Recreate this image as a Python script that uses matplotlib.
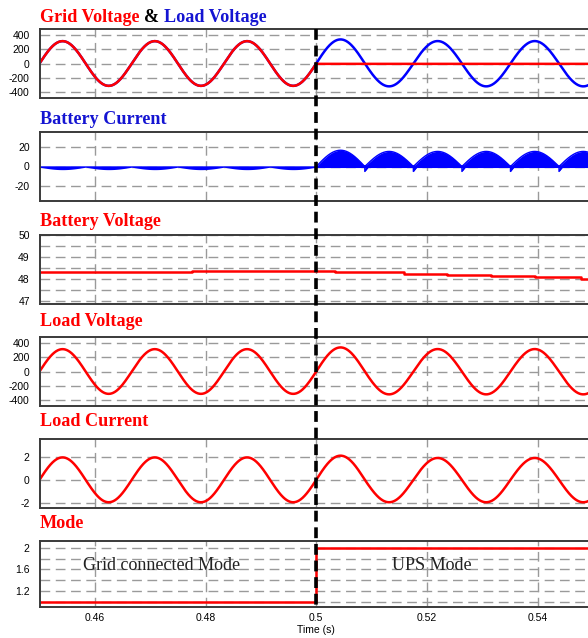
import numpy as np
import matplotlib
matplotlib.use("Agg")
import matplotlib.pyplot as plt
from matplotlib.lines import Line2D

plt.rcParams["axes.unicode_minus"] = False

# ---------------- data ----------------
x_ticks = [0.46, 0.48, 0.50, 0.52, 0.54]
x_tick_labels = ["0.46", "0.48", "0.5", "0.52", "0.54"]
switch_time = 0.50

grid_freq_hz = 60.0          # grid-connected period
ups_freq_hz = 57.0           # inverter (UPS) period read from peak spacing

# signed half-cycle extrema (one value per half cycle)
load_v_pre = [311, -311, 311, -311, 311, -311]
load_v_post = [335, -318, 312, -318, 312, -318]
grid_v_post_level = -5

load_i_pre = [1.95, -1.95, 1.95, -1.95, 1.95, -1.95]
load_i_post = [2.1, -1.95, 1.9, -1.95, 1.9, -1.95]

batt_i_pre_dips = [-2.5, -2.5, -2.5, -2.5, -2.5, -2.5]
batt_i_post_humps = [16.5, 15.3, 15.3, 15.3, 15.3, 15.3]
batt_i_post_notch = -5.0

batt_v_times = [0.45, 0.4775, 0.5033, 0.5111, 0.5159, 0.5237, 0.5315, 0.5396, 0.5478]
batt_v_values = [48.31, 48.37, 48.33, 48.30, 48.22, 48.18, 48.13, 48.07, 48.01]

mode_times = [0.45, 0.50]
mode_values = [1.0, 2.0]

# ---------------- helpers ----------------
RED = "#ff0000"
BLUE = "#0000ff"
TBLUE = "#1414d2"


def arcs(t, t0, half_period, extrema):
    y = np.full_like(t, np.nan)
    for k, a in enumerate(extrema):
        s = t0 + k * half_period
        e = s + half_period
        m = (t >= s) & (t <= e)
        y[m] = a * np.sin(np.pi * (t[m] - s) / half_period)
    return y


t_pre = np.linspace(0.45, switch_time, 1500)
t_post = np.linspace(switch_time, 0.551, 1500)
hp_pre = 0.5 / grid_freq_hz
hp_post = 0.5 / ups_freq_hz

vl_pre = arcs(t_pre, 0.45, hp_pre, load_v_pre)
vl_post = arcs(t_post, switch_time, hp_post, load_v_post)
il_pre = arcs(t_pre, 0.45, hp_pre, load_i_pre)
il_post = arcs(t_post, switch_time, hp_post, load_i_post)

# ---------------- figure ----------------
W, H = 588, 638
fig = plt.figure(figsize=(W / 100, H / 100), dpi=100)
left_px, right_px = 39.5, 593.0
tops = [29, 132, 235, 337, 439, 541]
heights = [69, 69, 69, 69, 69, 66]
title_y = [17, 120, 221, 322, 422, 524]

axes = []
for top, ph in zip(tops, heights):
    ax = fig.add_axes([left_px / W, 1 - (top + ph) / H, (right_px - left_px) / W, ph / H])
    ax.set_xlim(0.45, 0.55)
    ax.set_xticks(x_ticks)
    ax.set_xticklabels([])
    ax.tick_params(length=0, labelsize=7.5, pad=7)
    for s in ax.spines.values():
        s.set_color("#3a3a3a")
        s.set_linewidth(1.4)
    ax.grid(True, which="both", linestyle=(0, (7, 4)), color="#9a9a9a", linewidth=1.0)
    ax.set_axisbelow(True)
    axes.append(ax)

# Panel 1: grid & load voltage
ax = axes[0]
ax.plot(t_post, vl_post, color=BLUE, lw=1.8)
ax.plot(t_pre, vl_pre, color=BLUE, lw=1.8)
ax.plot(t_pre, vl_pre, color=RED, lw=1.8)
ax.plot(t_post, np.full_like(t_post, grid_v_post_level), color=RED, lw=1.8)
ax.set_ylim(-480, 480)
ax.set_yticks([400, 200, 0, -200, -400])

# Panel 2: battery current
ax = axes[1]
ib_pre = np.abs(arcs(t_pre, 0.45, hp_pre, batt_i_pre_dips)) * -1
ax.fill_between(t_pre, 0.7, ib_pre - 0.7, color=BLUE, lw=0)
env = np.abs(arcs(t_post, switch_time, hp_post, batt_i_post_humps))
tb, yb = [], []
for k in range(len(batt_i_post_humps)):
    s = switch_time + k * hp_post
    e = s + hp_post
    m = (t_post >= s) & (t_post < e)
    tb.extend(t_post[m]); yb.extend(env[m])
    tb.extend([e, e, e + 0.0007]); yb.extend([0, batt_i_post_notch, 0])
tb = np.array(tb); yb = np.array(yb)
ax.fill_between(tb, 0, yb, color=BLUE, lw=0)
ax.plot(tb, yb, color=BLUE, lw=1.0)
ax.plot([0.5, 0.55], [0, 0], color=BLUE, lw=1.5)
ax.set_ylim(-35, 35)
ax.set_yticks([20, 0, -20])

# Panel 3: battery voltage
ax = axes[2]
ax.step(batt_v_times + [0.551], batt_v_values + [batt_v_values[-1]], where="post", color=RED, lw=1.8)
ax.set_ylim(46.85, 50.0)
ax.set_yticks([50, 49, 48, 47])
ax.set_yticks([47.5, 48.5, 49.5], minor=True)
ax.tick_params(which="minor", length=0)

# Panel 4: load voltage
ax = axes[3]
ax.plot(t_pre, vl_pre, color=RED, lw=1.8)
ax.plot(t_post, vl_post, color=RED, lw=1.8)
ax.set_ylim(-480, 480)
ax.set_yticks([400, 200, 0, -200, -400])

# Panel 5: load current
ax = axes[4]
ax.plot(t_pre, il_pre, color=RED, lw=1.8)
ax.plot(t_post, il_post, color=RED, lw=1.8)
ax.set_ylim(-2.45, 3.55)
ax.set_yticks([2, 0, -2])

# Panel 6: mode
ax = axes[5]
ax.step(mode_times + [0.551], mode_values + [mode_values[-1]], where="post", color=RED, lw=1.8)
ax.set_ylim(0.90, 2.13)
ax.set_yticks([2, 1.6, 1.2])
ax.set_yticklabels(["2", "1.6", "1.2"])
ax.set_yticks([1.0, 1.4, 1.8], minor=True)
ax.tick_params(which="minor", length=0)
ax.set_xticklabels(x_tick_labels)
ax.tick_params(axis="x", pad=4)
ax.text(0.4720, 1.67, "Grid connected Mode", family="Liberation Serif", size=13,
        ha="center", va="center", color="#222222")
ax.text(0.5208, 1.67, "UPS Mode", family="Liberation Serif", size=13,
        ha="center", va="center", color="#222222")
ax.set_xlabel("Time (s)", family="Liberation Sans", size=7.5, labelpad=2)

for ax in axes:
    for lab in ax.get_yticklabels() + ax.get_xticklabels():
        lab.set_family("Liberation Sans")
        lab.set_fontsize(7.5)

# titles
tfont = dict(family="Liberation Serif", weight="bold", size=13.1, va="center", ha="left")
fig.canvas.draw()
renderer = fig.canvas.get_renderer()
x0 = 40 / W
parts = [("Grid Voltage ", RED), ("& ", "black"), ("Load Voltage", TBLUE)]
xc = x0
for txt, col in parts:
    tt = fig.text(xc, 1 - title_y[0] / H, txt, color=col, **tfont)
    bb = tt.get_window_extent(renderer)
    xc = bb.x1 / W
fig.text(x0, 1 - title_y[1] / H, "Battery Current", color=TBLUE, **tfont)
fig.text(x0, 1 - title_y[2] / H, "Battery Voltage", color=RED, **tfont)
fig.text(x0, 1 - title_y[3] / H, "Load Voltage", color=RED, **tfont)
fig.text(x0, 1 - title_y[4] / H, "Load Current", color=RED, **tfont)
fig.text(x0, 1 - title_y[5] / H, "Mode", color=RED, **tfont)

# big dashed switching line
xs = (left_px + (switch_time - 0.45) / 0.10 * (right_px - left_px)) / W
fig.add_artist(Line2D([xs, xs], [1 - 29 / H, 1 - (tops[5] + heights[5]) / H], color="black", lw=2.6,
                      linestyle=(0, (3.0, 1.6)), transform=fig.transFigure))

fig.savefig("out.png", dpi=100)
